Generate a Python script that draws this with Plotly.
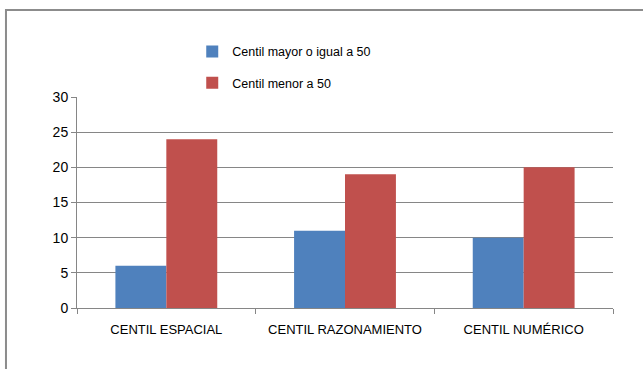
import plotly.graph_objects as go

categories = ["CENTIL ESPACIAL", "CENTIL RAZONAMIENTO", "CENTIL NUMÉRICO"]
mayor_igual_50 = [6, 11, 10]
menor_50 = [24, 19, 20]
y_ticks = [0, 5, 10, 15, 20, 25, 30]

BLUE = "#4F81BD"
RED = "#C0504D"
GRID = "#868686"
FONT = "Liberation Sans"

fig = go.Figure()
fig.add_trace(go.Bar(
    x=categories, y=mayor_igual_50, name="Centil mayor o igual a 50",
    marker=dict(color=BLUE, line=dict(width=0)), legendgroup="a",
))
fig.add_trace(go.Bar(
    x=categories, y=menor_50, name="Centil menor a 50",
    marker=dict(color=RED, line=dict(width=0)), legendgroup="b",
))

fig.update_layout(
    width=643, height=369,
    margin=dict(l=77, r=30, t=97, b=61),
    paper_bgcolor="white", plot_bgcolor="white",
    barmode="group", bargap=0.43, bargroupgap=0,
    font=dict(family=FONT, size=12, color="#000000"),
    showlegend=True,
    legend=dict(
        x=0.215, y=1.14, xanchor="left", yanchor="middle",
        orientation="v", tracegroupgap=12,
        font=dict(family=FONT, size=12.5),
        bgcolor="rgba(0,0,0,0)", itemwidth=30,
    ),
    xaxis=dict(
        showline=True, linecolor=GRID, linewidth=1,
        ticks="outside", ticklen=5, tickcolor=GRID,
        tickson="boundaries", showgrid=False,
        ticklabelstandoff=9,
        tickfont=dict(family=FONT, size=13),
    ),
    yaxis=dict(
        range=[0, 30], tickvals=y_ticks,
        showline=True, linecolor=GRID, linewidth=1,
        ticks="outside", ticklen=5, tickcolor=GRID,
        showgrid=True, gridcolor=GRID, gridwidth=1,
        zeroline=False,
        tickfont=dict(family=FONT, size=14),
    ),
    shapes=[dict(
        type="rect", xref="paper", yref="paper",
        x0=-0.1325, x1=1.08, y0=-0.33, y1=1.412,
        line=dict(color="#8C8C8C", width=2), fillcolor="rgba(0,0,0,0)",
        layer="below",
    )],
)

fig.write_html("out.html")
